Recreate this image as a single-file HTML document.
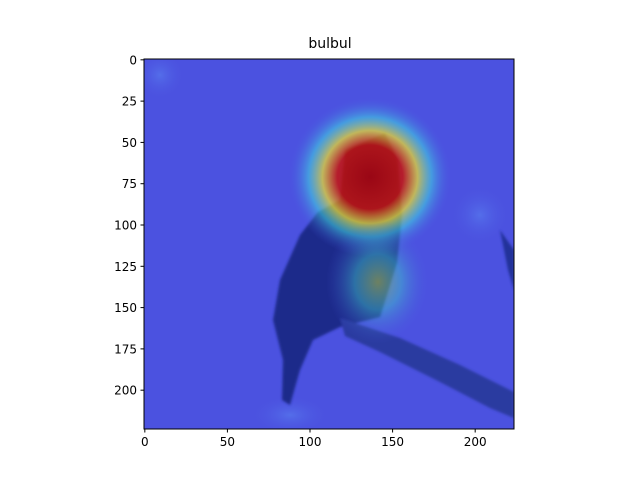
<!DOCTYPE html>
<html><head><meta charset="utf-8"><style>
body{margin:0;background:#fff;font-family:"Liberation Sans","DejaVu Sans",sans-serif}
svg text{font-family:"DejaVu Sans","Liberation Sans",sans-serif;font-size:12px;fill:#000}
</style></head><body>
<svg width="640" height="480">
<defs>
<radialGradient id="hot" cx="0.5" cy="0.5" r="0.5">
<stop offset="0" stop-color="#b00000" stop-opacity="0.85"/>
<stop offset="0.4" stop-color="#d01000" stop-opacity="0.8"/>
<stop offset="0.58" stop-color="#e8d830" stop-opacity="0.75"/>
<stop offset="0.75" stop-color="#40d8e0" stop-opacity="0.55"/>
<stop offset="1" stop-color="#4b52e0" stop-opacity="0"/>
</radialGradient>
<radialGradient id="warm" cx="0.5" cy="0.5" r="0.5">
<stop offset="0" stop-color="#b0c840" stop-opacity="0.55"/>
<stop offset="0.45" stop-color="#40c8c8" stop-opacity="0.45"/>
<stop offset="1" stop-color="#4b52e0" stop-opacity="0"/>
</radialGradient>
<radialGradient id="soft" cx="0.5" cy="0.5" r="0.5">
<stop offset="0" stop-color="#5a80f0" stop-opacity="0.6"/>
<stop offset="1" stop-color="#4b52e0" stop-opacity="0"/>
</radialGradient>
<clipPath id="imgclip"><rect x="144" y="59" width="370" height="370"/></clipPath>
<filter id="bl"><feGaussianBlur stdDeviation="1.2"/></filter>
</defs>
<text x="330" y="48" text-anchor="middle" style="font-size:14px">bulbul</text>
<g clip-path="url(#imgclip)">
<rect x="144" y="59" width="370" height="370" fill="#4b52e0"/>
<ellipse cx="160" cy="75" rx="25" ry="25" fill="url(#soft)"/>
<ellipse cx="290" cy="415" rx="40" ry="20" fill="url(#soft)"/>
<ellipse cx="480" cy="215" rx="30" ry="30" fill="url(#soft)"/>
<g filter="url(#bl)">
<polygon fill="#1c2a8a" points="345,150 385,133 398,160 402,215 397,263 380,317 340,327 313,340 300,370 290,405 282,400 283,360 273,320 280,280 300,235 318,212 340,200"/>
<polygon fill="#2a3aa0" points="340,318 400,338 460,365 514,392 514,418 490,408 440,382 380,352 345,336"/>
<polygon fill="#24309a" points="500,230 514,250 514,290 508,270"/>
</g>
<ellipse cx="370" cy="177" rx="82" ry="80" fill="url(#hot)"/>
<ellipse cx="378" cy="282" rx="52" ry="62" fill="url(#warm)"/>
</g>
<rect x="144" y="59" width="370" height="370" fill="none" stroke="#000" stroke-width="1"/>
<g id="xt"></g>
<g id="yt"></g>
</svg>
<script>
const xTicks=[0,50,100,150,200];
const yTicks=[0,25,50,75,100,125,150,175,200];
const x0=144,y0=59,s=370/224;
const ns="http://www.w3.org/2000/svg";
const xs=v=>x0+(v+0.5)*s, ys=v=>y0+(v+0.5)*s;
const xt=document.getElementById('xt'),yt=document.getElementById('yt');
xTicks.forEach(v=>{
 const l=document.createElementNS(ns,'line');
 l.setAttribute('x1',xs(v));l.setAttribute('x2',xs(v));l.setAttribute('y1',429);l.setAttribute('y2',432.5);l.setAttribute('stroke','#000');
 
 
 xt.appendChild(l);
 const t=document.createElementNS(ns,'text');
 t.setAttribute('x',xs(v));t.setAttribute('y',446);t.setAttribute('text-anchor','middle');t.textContent=v;
 
 
 xt.appendChild(t);
});
yTicks.forEach(v=>{
 const l=document.createElementNS(ns,'line');
 l.setAttribute('x1',140.5);l.setAttribute('x2',144);l.setAttribute('y1',ys(v));l.setAttribute('y2',ys(v));l.setAttribute('stroke','#000');
 
 
 yt.appendChild(l);
 const t=document.createElementNS(ns,'text');
 t.setAttribute('x',137);t.setAttribute('y',ys(v)+4.5);t.setAttribute('text-anchor','end');t.textContent=v;
 
 
 yt.appendChild(t);
});
</script>
</body></html>
